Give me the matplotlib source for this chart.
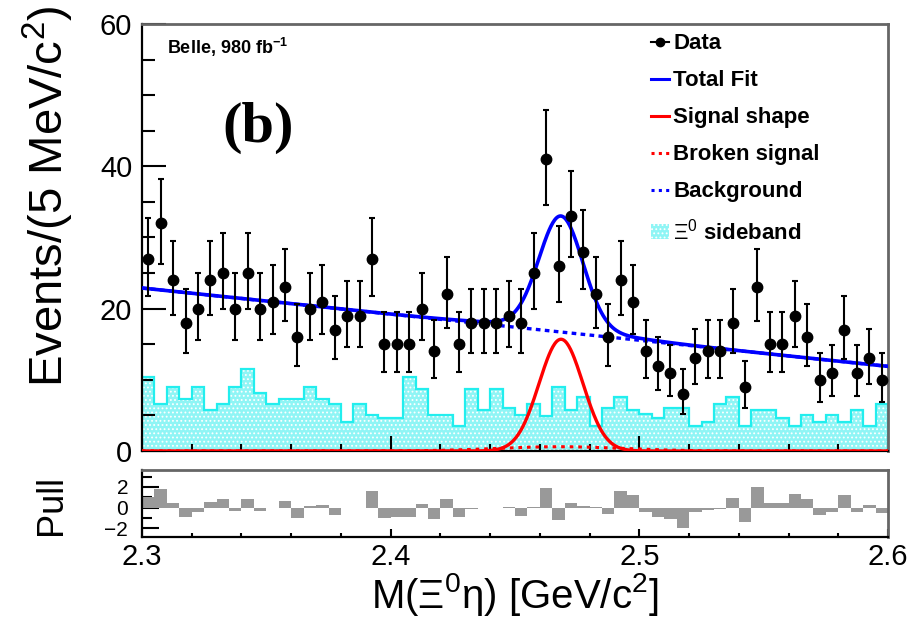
import numpy as np
import matplotlib
matplotlib.use('Agg')
import matplotlib.pyplot as plt
from matplotlib.lines import Line2D
from matplotlib.patches import Patch
from matplotlib.ticker import MultipleLocator, FormatStrFormatter

plt.rcParams['font.family'] = 'Liberation Sans'
plt.rcParams['mathtext.fontset'] = 'custom'
plt.rcParams['mathtext.rm'] = 'Liberation Sans'
plt.rcParams['mathtext.bf'] = 'Liberation Sans:bold'
plt.rcParams['mathtext.it'] = 'Liberation Sans:italic'
plt.rcParams['hatch.linewidth'] = 0.8

# Binning: 5 MeV bins from 2.3 to 2.6 GeV
edges = np.linspace(2.3, 2.6, 61)
centers = 0.5 * (edges[1:] + edges[:-1])

# Event counts per bin
counts = [27, 32, 24, 18, 20, 24, 25, 20, 25, 20,
          21, 23, 16, 20, 21, 17, 19, 19, 27, 15,
          15, 15, 20, 14, 22, 15, 18, 18, 18, 19,
          18, 25, 41, 26, 33, 28, 22, 16, 24, 21,
          14, 12, 11, 8, 13, 14, 14, 18, 9, 23,
          15, 15, 19, 16, 10, 11, 17, 11, 13, 10]

# Xi0 sideband (scaled)
sideband = [10.4, 6.6, 9.0, 7.3, 9.0, 5.7, 6.6, 9.0, 11.5, 8.1,
            6.6, 7.3, 7.3, 9.0, 7.3, 6.6, 4.1, 6.6, 5.1, 4.7,
            4.7, 10.4, 8.7, 5.1, 5.1, 3.5, 8.7, 5.7, 8.7, 6.1,
            5.1, 6.6, 4.9, 9.0, 5.7, 7.6, 3.5, 6.1, 7.6, 5.7,
            5.2, 4.7, 6.1, 6.1, 3.5, 4.1, 6.6, 7.6, 3.5, 5.7,
            5.7, 4.7, 3.5, 5.1, 4.1, 5.1, 4.1, 5.7, 3.5, 6.6]

# Pull per bin
pulls = [1.0, 1.8, 0.45, -0.9, -0.4, 0.5, 0.8, -0.35, 0.85, -0.3,
         0.0, 0.6, -1.05, 0.1, 0.2, -0.75, -0.05, -0.05, 1.6, -1.0,
         -0.9, -0.9, 0.3, -1.1, 0.8, -0.9, -0.1, -0.05, -0.05, 0.05,
         -0.85, 0.05, 1.9, -1.2, 0.4, 0.15, 0.05, -0.6, 1.6, 1.2,
         -0.45, -0.9, -1.1, -2.0, -0.4, -0.2, -0.1, 0.9, -1.4, 2.0,
         0.4, 0.4, 1.3, 0.8, -0.75, -0.4, 1.2, -0.4, 0.2, -0.55]

# Fit components
bkg_p0, bkg_p1 = 22.9, -36.7          # linear background
sig_amp, sig_mean, sig_sigma = 15.7, 2.4685, 0.0088
brk_amp, brk_mean, brk_sigma = 0.6, 2.468, 0.025

counts = np.array(counts, dtype=float)
err_lo = np.sqrt(counts)
err_hi = 0.5 + np.sqrt(counts + 0.75)

xf = np.linspace(2.3, 2.6, 800)
bkg = bkg_p0 + bkg_p1 * (xf - 2.3)
sig = sig_amp * np.exp(-0.5 * ((xf - sig_mean) / sig_sigma) ** 2)
brk = brk_amp * np.exp(-0.5 * ((xf - brk_mean) / brk_sigma) ** 2)
total = bkg + sig + brk

fig = plt.figure(figsize=(9.12, 6.2), dpi=100)
ax = fig.add_axes([0.1557, 0.2726, 0.818, 0.6887])
axp = fig.add_axes([0.1557, 0.1339, 0.818, 0.108])

cyan = '#22eeee'
fillc = '#8ff5f5'
# sideband histogram: dotted fill plus outline
ax.stairs(sideband, edges, fill=True, facecolor=fillc, edgecolor='white',
          hatch='....', linewidth=0, zorder=1)
ax.stairs(sideband, edges, color=cyan, linewidth=1.6, zorder=2)

ax.plot(xf, brk, color='red', lw=2.2, ls=(0, (1.2, 1.6)), zorder=3)
ax.plot(xf, sig, color='red', lw=2.4, zorder=3)
ax.plot(xf, bkg, color='blue', lw=2.4, ls=(0, (1.4, 1.3)), zorder=3)
ax.plot(xf, total, color='blue', lw=2.6, zorder=3)

ax.errorbar(centers, counts, yerr=[err_lo, err_hi], fmt='o', color='black',
            ms=7.5, elinewidth=1.5, capsize=2.5, capthick=1.5, zorder=4)

ax.set_xlim(2.3, 2.6)
ax.set_ylim(0, 60)
ax.yaxis.set_major_locator(MultipleLocator(20))
ax.yaxis.set_minor_locator(MultipleLocator(5))
ax.xaxis.set_major_locator(MultipleLocator(0.1))
ax.xaxis.set_minor_locator(MultipleLocator(0.02))
ax.tick_params(which='both', direction='in', top=False, right=False,
               labelbottom=False, width=1.5)
ax.tick_params(axis='y', which='major', length=17, labelsize=21, pad=7)
ax.tick_params(axis='y', which='minor', length=9)
ax.tick_params(axis='x', which='major', length=11)
ax.tick_params(axis='x', which='minor', length=5)
for s in ['top', 'right']:
    ax.spines[s].set_color('#666666')
    ax.spines[s].set_linewidth(2)
for s in ['left', 'bottom']:
    ax.spines[s].set_linewidth(1.6)

ax.text(0.034, 0.946, r'Belle, 980 fb$^{\mathbf{-1}}$', transform=ax.transAxes,
        fontsize=13, fontweight='bold', va='center', ha='left')
ax.text(0.155, 0.756, '(b)', transform=ax.transAxes, fontsize=42,
        family='Liberation Serif', fontweight='bold', va='center', ha='center')

handles = [
    Line2D([], [], color='black', marker='o', ms=6, lw=1.5),
    Line2D([], [], color='blue', lw=2.2),
    Line2D([], [], color='red', lw=2.2),
    Line2D([], [], color='red', lw=2.2, ls=(0, (1.0, 1.4))),
    Line2D([], [], color='blue', lw=2.2, ls=(0, (1.0, 1.4))),
    Patch(facecolor=fillc, edgecolor='white', hatch='....', lw=0),
]
labels = ['Data', 'Total Fit', 'Signal shape', 'Broken signal', 'Background',
          r'$\Xi^{0}$ sideband']
leg = ax.legend(handles, labels, loc='upper left', bbox_to_anchor=(0.682, 0.978),
                frameon=False, handlelength=0.8, handletextpad=0.2,
                labelspacing=0.72, borderpad=0, borderaxespad=0,
                prop={'size': 16, 'weight': 'bold'})

fig.text(48 / 912, 1 - 6 / 620, 'Events/(5 MeV/c$^{2}$)', rotation=90,
         ha='center', va='top', fontsize=34)

# pull panel
axp.stairs(pulls, edges, baseline=0, fill=True, color='#999999', zorder=2)
axp.set_xlim(2.3, 2.6)
axp.set_ylim(-2.86, 3.64)
axp.yaxis.set_major_locator(MultipleLocator(2))
axp.yaxis.set_minor_locator(MultipleLocator(1))
axp.xaxis.set_major_locator(MultipleLocator(0.1))
axp.xaxis.set_minor_locator(MultipleLocator(0.02))
axp.xaxis.set_major_formatter(FormatStrFormatter('%.1f'))
axp.tick_params(which='both', direction='in', top=False, right=False, width=1.5)
axp.tick_params(axis='y', which='major', length=12, labelsize=15, pad=10)
axp.tick_params(axis='y', which='minor', length=7)
axp.tick_params(axis='x', which='major', length=6, labelsize=21, pad=4)
axp.tick_params(axis='x', which='minor', length=3)
for s in ['top', 'right']:
    axp.spines[s].set_color('#666666')
    axp.spines[s].set_linewidth(2)
for s in ['left', 'bottom']:
    axp.spines[s].set_linewidth(1.6)
axp.set_xlabel('M(Ξ$^{0}$η) [GeV/c$^{2}$]', fontsize=29, labelpad=0)
fig.text(52 / 912, 1 - 505 / 620, 'Pull', rotation=90, ha='center',
         va='center', fontsize=26)

fig.savefig('out.png', dpi=100)
